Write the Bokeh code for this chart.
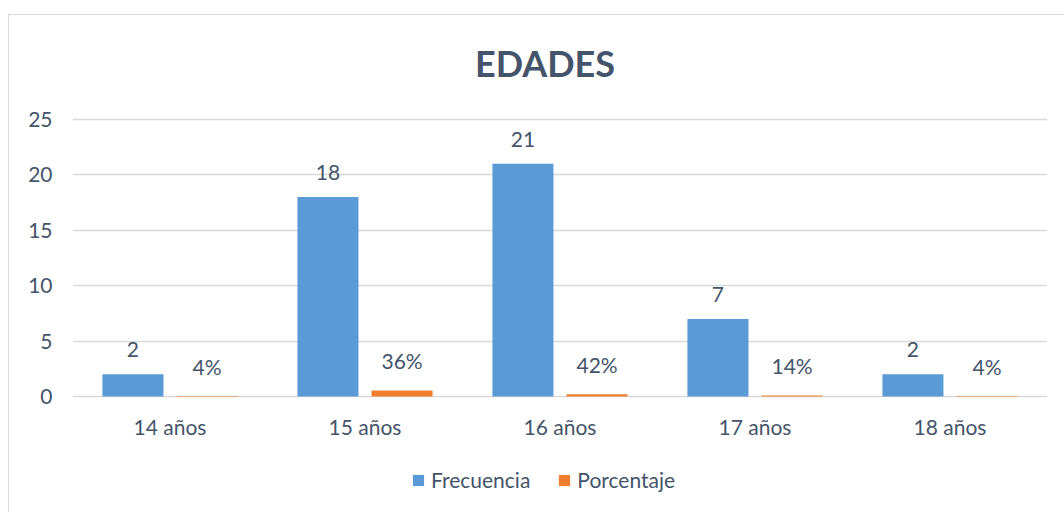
from bokeh.plotting import figure
from bokeh.models import ColumnDataSource, FactorRange, Range1d, Legend, LegendItem, LabelSet
from bokeh.transform import dodge
from bokeh.embed import file_html
from bokeh.resources import INLINE
from bokeh.core.properties import value

categories = ["14 años", "15 años", "16 años", "17 años", "18 años"]
frecuencia = [2, 18, 21, 7, 2]
porcentaje = [0.05, 0.55, 0.2, 0.1, 0.05]
frec_labels = ["2", "18", "21", "7", "2"]
porc_labels = ["4%", "36%", "42%", "14%", "4%"]
y_ticks = [0, 5, 10, 15, 20, 25]
chart_title = "EDADES"

FONT = "Lato"
TXT = "#44546A"

# layout (pixels)
FRAME_TOP_PAD = 20
FRAME_H = 480
ZERO_FROM_TOP = 361      # pixel distance from frame top to value 0
PX_PER_UNIT = 277 / 25
y_end = ZERO_FROM_TOP / PX_PER_UNIT
y_start = y_end - FRAME_H / PX_PER_UNIT

src = ColumnDataSource(dict(cat=categories, f=frecuencia, p=porcentaje,
                            fl=frec_labels, pl=porc_labels, zero=[0] * len(categories)))
title_src = ColumnDataSource(dict(x=[categories[2]], y=[25 + 57 / PX_PER_UNIT], t=[chart_title]))

p = figure(x_range=FactorRange(*categories, range_padding=0), y_range=Range1d(y_start, y_end),
           frame_width=975, frame_height=FRAME_H, output_backend="svg", toolbar_location=None,
           min_border_left=63, min_border_right=18, min_border_top=FRAME_TOP_PAD, min_border_bottom=0,
           styles={"border": "1px solid #D9D9D9", "margin-top": "14px", "margin-left": "8px"})
p.outline_line_color = None
p.background_fill_color = "white"

rb = p.vbar(x=dodge("cat", -0.19, range=p.x_range), top="f", width=0.313, source=src,
            fill_color="#5A9AD6", line_color=None)
ro = p.vbar(x=dodge("cat", 0.19, range=p.x_range), top="p", width=0.313, source=src,
            fill_color="#F07E2F", line_color=None)

common = dict(text_font=value(FONT), text_font_size="21px", text_color=TXT,
              text_align="center", text_baseline="bottom", y_offset=17)
p.add_layout(LabelSet(x=dodge("cat", -0.19, range=p.x_range), y="f", text="fl", source=src, **common))
p.add_layout(LabelSet(x=dodge("cat", 0.19, range=p.x_range), y="p", text="pl", source=src, **common))

# category labels (x axis)
p.add_layout(LabelSet(x="cat", y="zero", text="cat", source=src, text_font=value(FONT),
                      text_font_size="21px", text_color=TXT, text_align="center",
                      text_baseline="middle", y_offset=-30))

# title
p.add_layout(LabelSet(x="x", y="y", text="t", source=title_src, x_offset=-15,
                      text_font=value(FONT), text_font_size="36px", text_font_style="bold",
                      text_color=TXT, text_align="center", text_baseline="middle"))

p.xaxis.visible = False
p.yaxis.axis_line_color = None
p.yaxis.major_tick_line_color = None
p.yaxis.minor_tick_line_color = None
p.yaxis.major_label_text_font = FONT
p.yaxis.major_label_text_font_size = "21px"
p.yaxis.major_label_text_color = TXT
p.yaxis.major_label_standoff = 14
p.yaxis.ticker = y_ticks
p.xgrid.grid_line_color = None
p.ygrid.grid_line_color = "#D9D9D9"
p.ygrid.grid_line_width = 1.5

legend = Legend(items=[LegendItem(label="Frecuencia", renderers=[rb]),
                       LegendItem(label="Porcentaje", renderers=[ro])],
                orientation="horizontal", location=(339, 23),
                label_text_font=FONT, label_text_font_size="21px", label_text_color=TXT,
                glyph_width=14, glyph_height=14, label_height=24, spacing=27, label_standoff=6,
                border_line_color=None, background_fill_alpha=0, margin=0, padding=0)
p.add_layout(legend, "center")

open("out.html", "w").write(file_html(p, INLINE))
